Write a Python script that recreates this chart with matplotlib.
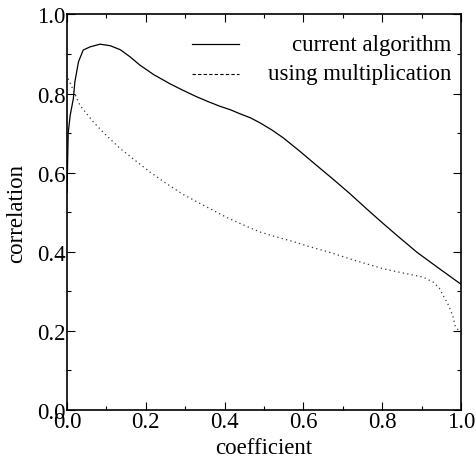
import numpy as np
import matplotlib
matplotlib.use('Agg')
import matplotlib.pyplot as plt
from matplotlib.ticker import MultipleLocator, FormatStrFormatter

# values
cur_x = [0.0, 0.003, 0.008, 0.016, 0.020, 0.029, 0.041, 0.058, 0.084, 0.11, 0.135,
         0.16, 0.185, 0.22, 0.261, 0.295, 0.329, 0.36, 0.388, 0.415, 0.439, 0.465,
         0.49, 0.52, 0.549, 0.59, 0.634, 0.676, 0.718, 0.76, 0.803, 0.845,
         0.888, 0.94, 1.0]
cur_y = [0.55, 0.70, 0.745, 0.787, 0.83, 0.88, 0.91, 0.918, 0.925, 0.921, 0.911,
         0.893, 0.872, 0.848, 0.825, 0.808, 0.792, 0.779, 0.768, 0.759, 0.749, 0.739,
         0.726, 0.708, 0.688, 0.655, 0.618, 0.583, 0.547, 0.509, 0.471, 0.435,
         0.399, 0.361, 0.318]

mul_x = [0.003, 0.016, 0.033, 0.067, 0.1, 0.135, 0.168, 0.21, 0.253, 0.295, 0.338,
         0.405, 0.45, 0.49, 0.53, 0.574, 0.615, 0.659, 0.7, 0.735, 0.803, 0.85,
         0.904, 0.93, 0.945, 0.955, 0.965, 0.972, 0.98, 0.985, 0.993, 1.0]
mul_y = [0.838, 0.808, 0.77, 0.728, 0.694, 0.661, 0.635, 0.602, 0.572, 0.545, 0.522,
         0.487, 0.467, 0.45, 0.438, 0.426, 0.413, 0.401, 0.388, 0.377, 0.357, 0.347,
         0.336, 0.323, 0.308, 0.289, 0.272, 0.256, 0.235, 0.213, 0.202, 0.2]

labels = ['current algorithm', 'using multiplication']

plt.rcParams['font.family'] = ['Liberation Serif', 'DejaVu Serif']
plt.rcParams['font.size'] = 16.5

fig = plt.figure(figsize=(4.76, 4.64), dpi=100)
ax = fig.add_axes([0.1408, 0.1142, 0.8277, 0.8524])

ax.plot(cur_x, cur_y, color='black', lw=0.9)
ax.plot(mul_x, mul_y, color='#333333', lw=0.9, linestyle=(0, (1, 2.6)))

ax.set_xlim(0, 1)
ax.set_ylim(0, 1)
ax.xaxis.set_major_locator(MultipleLocator(0.2))
ax.xaxis.set_minor_locator(MultipleLocator(0.1))
ax.yaxis.set_major_locator(MultipleLocator(0.2))
ax.yaxis.set_minor_locator(MultipleLocator(0.1))
ax.xaxis.set_major_formatter(FormatStrFormatter('%.1f'))
ax.yaxis.set_major_formatter(FormatStrFormatter('%.1f'))
ax.tick_params(which='both', direction='in', top=True, right=True, width=0.8)
ax.tick_params(which='major', length=6, pad=1)
ax.tick_params(which='minor', length=3)
for s in ax.spines.values():
    s.set_linewidth(1.2)

ax.set_xlabel('coefficient', labelpad=3)
ax.set_ylabel('correlation', labelpad=7)

# gnuplot style key: sample on the left, text right aligned
styles = [dict(color='black', lw=0.9), dict(color='black', lw=0.8, linestyle=(0, (3, 2)))]
for i, (lab, st) in enumerate(zip(labels, styles)):
    yk = 0.925 - i * 0.075
    ax.plot([0.317, 0.437], [yk, yk], transform=ax.transAxes, **st)
    ax.text(0.976, yk, lab, transform=ax.transAxes, ha='right', va='center')

fig.savefig('out.png', dpi=100)
